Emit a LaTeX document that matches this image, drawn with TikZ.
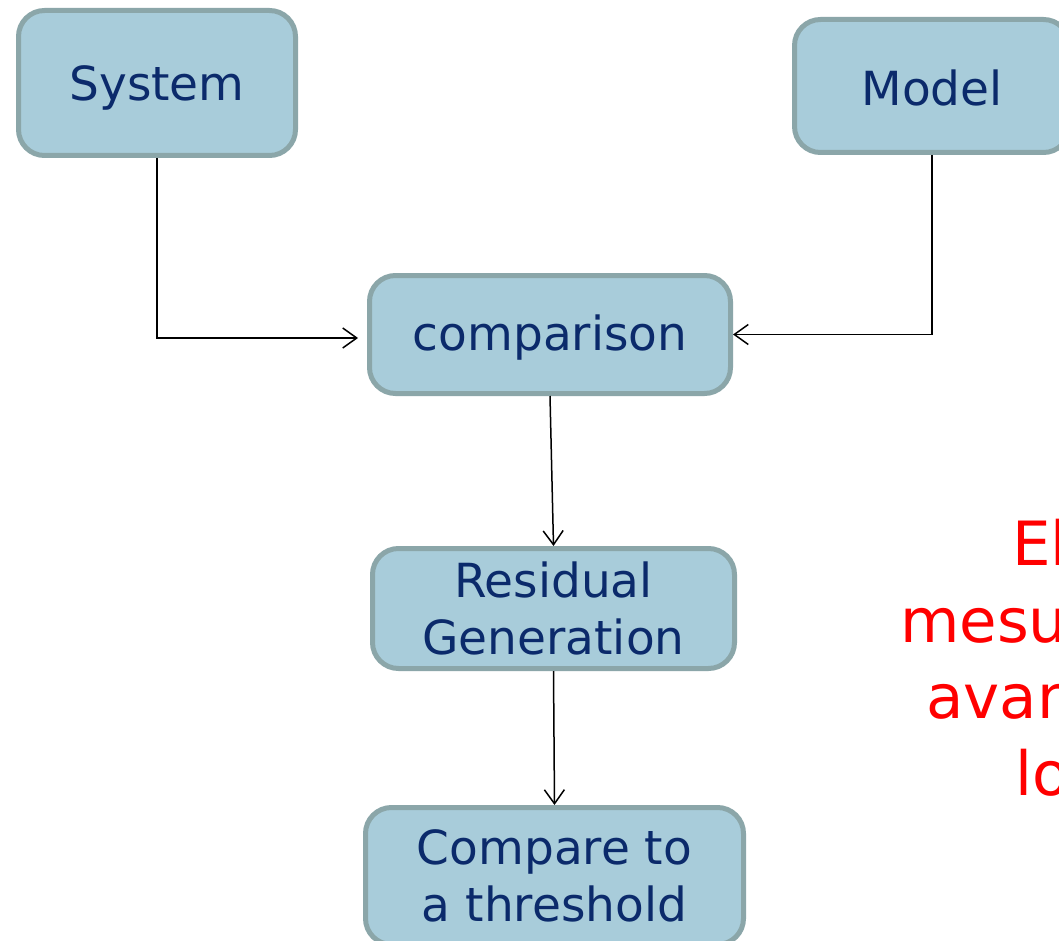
\documentclass[tikz,border=0pt]{standalone}
\usepackage{fontspec}
\setmainfont{DejaVu Sans}
\usetikzlibrary{arrows.meta,calc}
\definecolor{boxfill}{HTML}{A8CCDA}
\definecolor{boxline}{HTML}{8BA6A9}
\definecolor{boxtext}{HTML}{0B2A6B}
\tikzset{
  blk/.style={draw=boxline, line width=5pt, fill=boxfill, rounded corners=26pt,
    text=boxtext, align=center, inner sep=0pt, font=\fontsize{47}{57}\selectfont},
  arr/.style={draw=black, line width=1.5pt, -{Straight Barb[length=14pt,width=20pt,line width=1.5pt]}},
  redtxt/.style={text=red, anchor=base west, inner sep=0pt, font=\fontsize{61}{77}\selectfont}
}
\begin{document}
\begin{tikzpicture}[x=1pt,y=-1pt]
\useasboundingbox (0,0) rectangle (1059,941);
\clip (0,0) rectangle (1059,941);
\fill[white] (0,0) rectangle (1059,941);
\node[blk, minimum width=277pt, minimum height=145pt] (sys) at (157,83) {\raisebox{-5pt}[\height][\depth]{System}};
\node[blk, minimum width=275pt, minimum height=133pt] (mod) at (932,86) {\raisebox{-2pt}[\height][\depth]{Model}};
\node[blk, minimum width=361pt, minimum height=118pt] (cmp) at (550,334.5) {\raisebox{-3pt}[\height][\depth]{comparison}};
\node[blk, minimum width=362pt, minimum height=120pt] (res) at (553.5,608.5) {Residual\\Generation};
\node[blk, minimum width=378pt, minimum height=137pt] (thr) at (554.5,876) {Compare to\\a threshold};
\coordinate (sysin) at (358,338);
\draw[arr] (sys.south) |- (sysin);
\draw[arr] (mod.south) |- (cmp.east);
\draw[arr] (cmp.south) -- (res.north);
\draw[arr] (res.south) -- (thr.north);
\node[redtxt] (r1) at (1012,565) {El};
\node[redtxt] (r2) at (900,642) {mesur};
\node[redtxt] (r3) at (926,718) {avan};
\node[redtxt] (r4) at (1015,795) {lo};
\end{tikzpicture}
\end{document}
